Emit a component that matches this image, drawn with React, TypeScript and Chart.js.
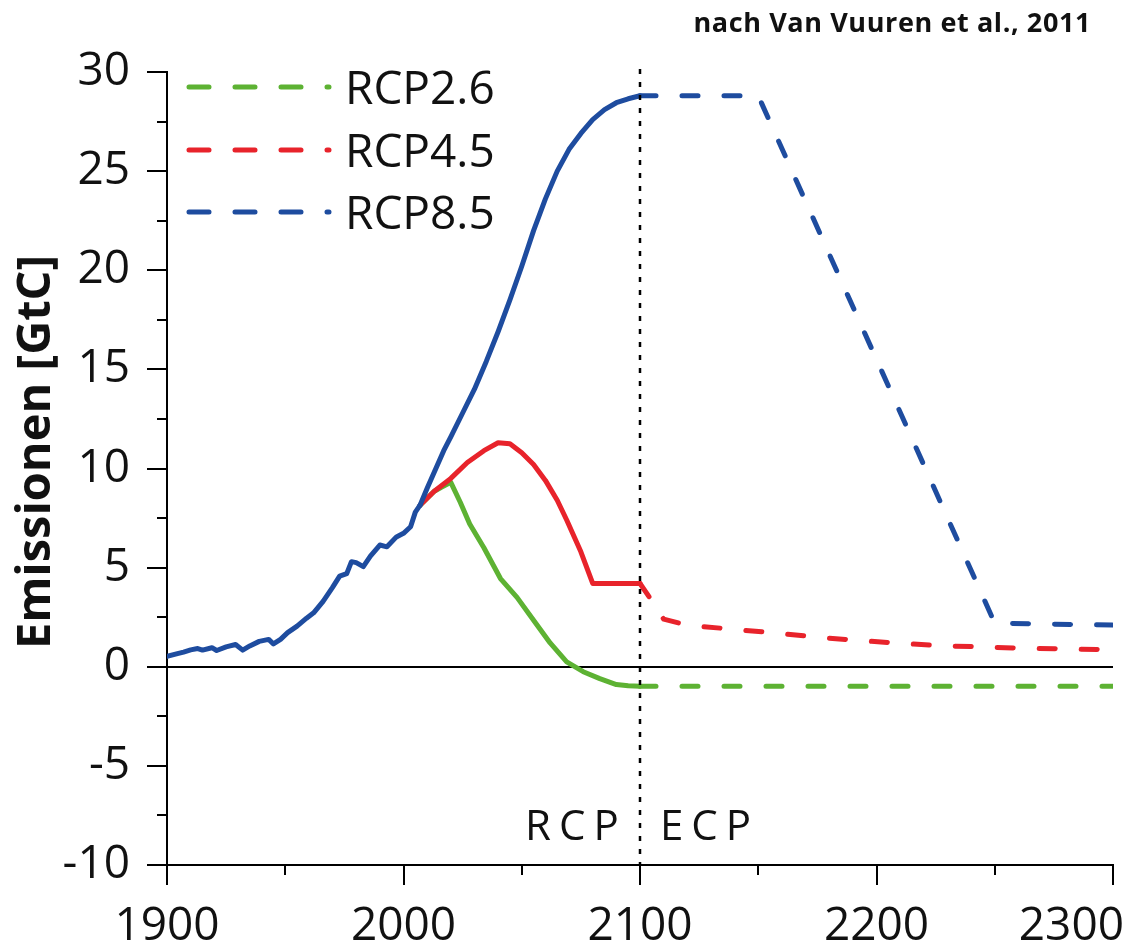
import React, { useEffect, useRef } from 'react';
import { Chart, registerables } from 'chart.js';

Chart.register(...registerables);

// ---------- data ----------
const histYears = [1900, 1904, 1907, 1910, 1913, 1915, 1919, 1921, 1925, 1929, 1932, 1935, 1939, 1943, 1945, 1948, 1951, 1955, 1959, 1962, 1966, 1970, 1973, 1976, 1978, 1980, 1983, 1986, 1990, 1993, 1997, 2000, 2003, 2005, 2007];
const histValues = [0.52, 0.65, 0.74, 0.85, 0.92, 0.84, 0.96, 0.82, 1.0, 1.12, 0.84, 1.05, 1.28, 1.38, 1.15, 1.38, 1.72, 2.05, 2.45, 2.72, 3.3, 4.0, 4.57, 4.7, 5.3, 5.25, 5.05, 5.58, 6.14, 6.05, 6.55, 6.73, 7.06, 7.8, 8.15];

const rcp26Years = [2007, 2010, 2013, 2016, 2020, 2024, 2028, 2034, 2041, 2048, 2055, 2062, 2069, 2076, 2083, 2090, 2095, 2100, 2150, 2200, 2250, 2300];
const rcp26Values = [8.15, 8.5, 8.85, 9.05, 9.3, 8.3, 7.2, 6.0, 4.45, 3.5, 2.35, 1.2, 0.25, -0.25, -0.6, -0.9, -0.96, -0.98, -0.98, -0.98, -0.98, -0.98];

const rcp45Years = [2007, 2010, 2013, 2020, 2027, 2034, 2040, 2045, 2050, 2055, 2060, 2065, 2069, 2075, 2080, 2090, 2100, 2104, 2110, 2120, 2140, 2156, 2174, 2192, 2209, 2227, 2245, 2262, 2280, 2300];
const rcp45Values = [8.15, 8.5, 8.85, 9.5, 10.3, 10.9, 11.3, 11.25, 10.8, 10.2, 9.4, 8.4, 7.4, 5.8, 4.2, 4.2, 4.2, 3.5, 2.4, 2.1, 1.88, 1.72, 1.5, 1.33, 1.19, 1.06, 1.0, 0.93, 0.9, 0.85];

const rcp85Years = [2007, 2010, 2017, 2020, 2025, 2030, 2035, 2040, 2045, 2050, 2055, 2060, 2065, 2070, 2075, 2080, 2085, 2090, 2095, 2100, 2150, 2250, 2300];
const rcp85Values = [8.15, 9.0, 10.9, 11.6, 12.8, 14.0, 15.4, 16.9, 18.5, 20.2, 22.0, 23.6, 25.0, 26.1, 26.9, 27.6, 28.1, 28.45, 28.65, 28.8, 28.8, 2.2, 2.1];

const seriesNames = ['RCP2.6', 'RCP4.5', 'RCP8.5'];
const seriesColors = ['#5DB233', '#E8232B', '#1E4C9F'];

const xTickLabels = [1900, 2000, 2100, 2200, 2300];
const xMinorTicks = [1950, 2050, 2150, 2250];
const yMinorTicks = [-7.5, -2.5, 2.5, 7.5, 12.5, 17.5, 22.5, 27.5];
const phaseLabels = ['RCP', 'ECP'];
const splitYear = 2100;
const yTitle = 'Emissionen [GtC]';
const sourceText = 'nach Van Vuuren et al., 2011';

const FONT = '"Open Sans", "Noto Sans", sans-serif';
const DASH = [16, 26];

function toPoints(xs: number[], ys: number[]) {
  return xs.map((x, i) => ({ x, y: ys[i] }));
}

const decorPlugin = {
  id: 'decor',
  beforeDatasetsDraw(chart: any) {
    const { ctx, chartArea: a, scales } = chart;
    const y0 = Math.round(scales.y.getPixelForValue(0));
    ctx.save();
    ctx.strokeStyle = '#000';
    ctx.lineWidth = 2;
    ctx.beginPath();
    ctx.moveTo(a.left, y0);
    ctx.lineTo(a.right, y0);
    ctx.stroke();
    ctx.restore();
  },
  afterDraw(chart: any) {
    const { ctx, chartArea: a, scales } = chart;
    const xs = scales.x;
    const ys = scales.y;
    ctx.save();
    // minor ticks
    ctx.strokeStyle = '#000';
    ctx.lineWidth = 2;
    yMinorTicks.forEach((v) => {
      const py = Math.round(ys.getPixelForValue(v));
      ctx.beginPath();
      ctx.moveTo(a.left - 10, py);
      ctx.lineTo(a.left, py);
      ctx.stroke();
    });
    xMinorTicks.forEach((v) => {
      const px = Math.round(xs.getPixelForValue(v));
      ctx.beginPath();
      ctx.moveTo(px, a.bottom);
      ctx.lineTo(px, a.bottom + 10);
      ctx.stroke();
    });
    // dotted separator
    const sx = Math.round(xs.getPixelForValue(splitYear));
    ctx.setLineDash([5, 8]);
    ctx.lineWidth = 2.5;
    ctx.beginPath();
    ctx.moveTo(sx, a.top - 3);
    ctx.lineTo(sx, a.bottom);
    ctx.stroke();
    ctx.setLineDash([]);

    // x tick labels
    ctx.fillStyle = '#111';
    ctx.font = `46px ${FONT}`;
    ctx.textBaseline = 'alphabetic';
    ctx.textAlign = 'left';
    xTickLabels.forEach((v) => {
      const t = String(v);
      const px = xs.getPixelForValue(v);
      const w = ctx.measureText(t).width;
      let left = px - w / 2;
      if (left + w > chart.width - 5) left = chart.width - 5 - w;
      ctx.fillText(t, left, 940);
    });

    // legend
    const legY = [87, 150, 212];
    seriesNames.forEach((name, i) => {
      ctx.strokeStyle = seriesColors[i];
      ctx.lineWidth = 5;
      ctx.lineCap = 'round';
      ctx.setLineDash([20, 26]);
      ctx.beginPath();
      ctx.moveTo(189, legY[i]);
      ctx.lineTo(329, legY[i]);
      ctx.stroke();
      ctx.setLineDash([]);
      ctx.fillStyle = '#111';
      ctx.font = `46px ${FONT}`;
      ctx.textAlign = 'left';
      ctx.fillText(name, 345, legY[i] + 16.5);
    });

    // phase labels
    ctx.font = `42px ${FONT}`;
    (ctx as any).letterSpacing = '8px';
    ctx.fillText(phaseLabels[0], 525, 840);
    ctx.fillText(phaseLabels[1], 660, 840);

    // source
    (ctx as any).letterSpacing = '0.6px';
    ctx.font = `bold 27px ${FONT}`;
    ctx.textAlign = 'right';
    ctx.fillText(sourceText, 1091, 32);
    (ctx as any).letterSpacing = '0px';

    // y title
    ctx.translate(50, 452);
    ctx.rotate(-Math.PI / 2);
    ctx.font = `bold 47px ${FONT}`;
    ctx.textAlign = 'center';
    ctx.fillText(yTitle, 0, 0);
    ctx.restore();
  },
};

export default function App() {
  const ref = useRef<HTMLCanvasElement | null>(null);

  useEffect(() => {
    if (!ref.current) return;
    const dashAfter = (c: any) => (c.p0.parsed.x >= splitYear ? DASH : undefined);
    const base = {
      borderWidth: 5,
      pointRadius: 0,
      pointHoverRadius: 0,
      borderCapStyle: 'round' as const,
      borderJoinStyle: 'round' as const,
      tension: 0,
      fill: false,
    };
    const chart = new Chart(ref.current, {
      type: 'line',
      data: {
        datasets: [
          { ...base, label: 'Historisch', data: toPoints(histYears, histValues), borderColor: seriesColors[2], order: 0 },
          { ...base, label: seriesNames[2], data: toPoints(rcp85Years, rcp85Values), borderColor: seriesColors[2], order: 1, segment: { borderDash: dashAfter } },
          { ...base, label: seriesNames[1], data: toPoints(rcp45Years, rcp45Values), borderColor: seriesColors[1], order: 2, segment: { borderDash: dashAfter } },
          { ...base, label: seriesNames[0], data: toPoints(rcp26Years, rcp26Values), borderColor: seriesColors[0], order: 3, segment: { borderDash: dashAfter } },
        ] as any,
      },
      options: {
        animation: false,
        responsive: false,
        events: [],
        layout: { padding: { top: 72, right: 16, left: 0, bottom: 0 } },
        plugins: { legend: { display: false }, tooltip: { enabled: false } },
        scales: {
          x: {
            type: 'linear',
            min: 1900,
            max: 2300,
            afterFit: (s: any) => { s.height = 80; },
            ticks: { display: false, stepSize: 100 },
            grid: { drawOnChartArea: false, drawTicks: true, tickLength: 20, color: '#000', lineWidth: 2 },
            border: { display: true, color: '#000', width: 2 },
          },
          y: {
            type: 'linear',
            min: -10,
            max: 30,
            afterFit: (s: any) => { s.width = 167; },
            ticks: { stepSize: 5, padding: 17, color: '#111', font: { family: FONT, size: 46 } },
            grid: { drawOnChartArea: false, drawTicks: true, tickLength: 20, color: '#000', lineWidth: 2 },
            border: { display: true, color: '#000', width: 2 },
          },
        },
      } as any,
      plugins: [decorPlugin],
    });
    return () => chart.destroy();
  }, []);

  return (
    <div style={{ position: 'absolute', left: 0, top: 0, width: 1129, height: 945, background: '#fff' }}>
      <canvas ref={ref} width={1129} height={945} style={{ display: 'block' }} />
    </div>
  );
}
